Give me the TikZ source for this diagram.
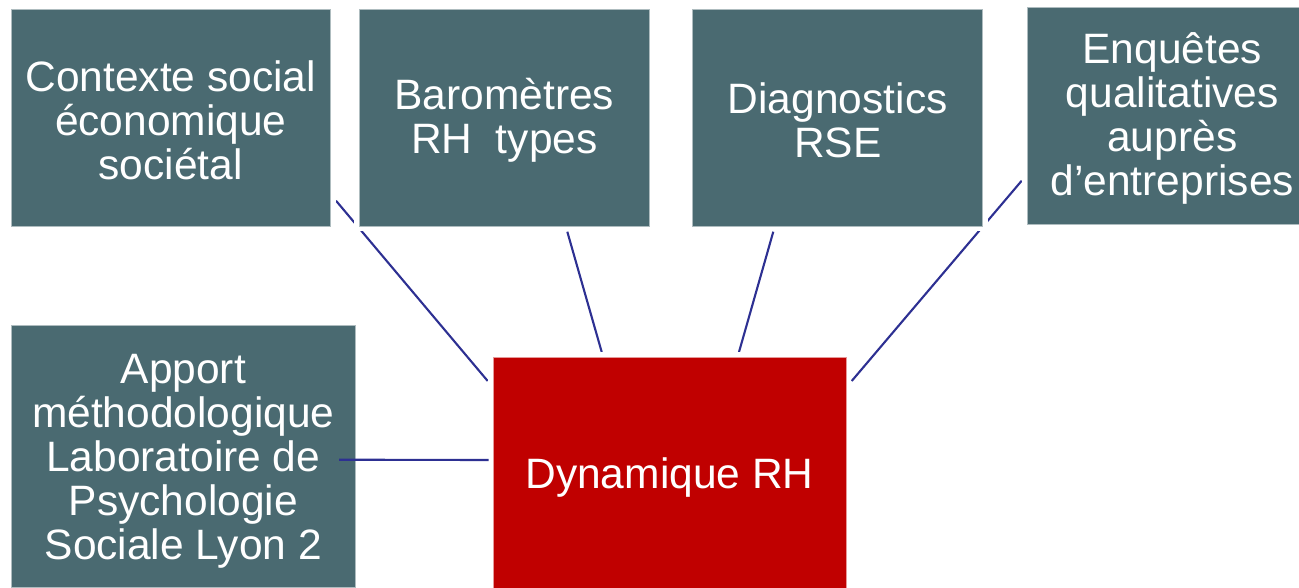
\documentclass[tikz,border=0pt]{standalone}
\usepackage{fontspec}
\setmainfont{Liberation Sans}
\definecolor{boxteal}{RGB}{74,106,113}
\definecolor{boxred}{RGB}{192,0,0}
\definecolor{linkblue}{RGB}{45,48,146}
\begin{document}
\begin{tikzpicture}[x=1pt,y=-1pt,
  box/.style={rectangle, inner sep=0pt, fill=boxteal, draw=white!55!boxteal, line width=0.8pt,
    preaction={draw=white, line width=10pt}},
  redbox/.style={box, fill=boxred, draw=white!60!boxred},
  txt/.style={inner sep=0pt, text=white, align=center, font=\fontsize{42.5}{44}\selectfont},
  link/.style={draw=linkblue, line width=2.1pt}
]
\useasboundingbox (0,0) rectangle (1299,587);
% connector end points
\coordinate (l1a) at (336,200.7);  \coordinate (l1b) at (487.7,381);
\coordinate (l2a) at (567.3,231.7); \coordinate (l2b) at (601.7,352);
\coordinate (l3a) at (773.3,231.7); \coordinate (l3b) at (739,352);
\coordinate (l4a) at (1021.7,180.7); \coordinate (l4b) at (851.7,381);
\coordinate (l5a) at (339,459.7);  \coordinate (l5b) at (488.7,460);
\draw[link] (l1a) -- (l1b);
\draw[link] (l2a) -- (l2b);
\draw[link] (l3a) -- (l3b);
\draw[link] (l4a) -- (l4b);
% boxes
\node[box, minimum width=319.7pt, minimum height=217.7pt] (b1) at (170.8,117.8) {};
\node[box, minimum width=290pt, minimum height=217pt] (b2) at (504.3,117.5) {};
\node[box, minimum width=290pt, minimum height=217pt] (b3) at (837.7,117.5) {};
\node[box, minimum width=290pt, minimum height=217pt] (b4) at (1172.3,115.8) {};
\node[box, minimum width=344.7pt, minimum height=262pt] (b5) at (183.3,456) {};
\node[redbox, minimum width=353pt, minimum height=234.6pt] (dyn) at (669.5,474.6) {};
% texts
\node[txt] (t1) at ([yshift=-2.5pt]b1.center) {Contexte social\\économique\\sociétal};
\node[txt] (t2) at ([yshift=-3pt]b2.center) {Baromètres\\RH\ \ types};
\node[txt] (t3) at ([yshift=-3pt]b3.center) {Diagnostics\\RSE};
\node[txt] (t4) at ([yshift=-2.5pt]b4.center) {Enquêtes\\qualitatives\\auprès\\d’entreprises};
\node[txt] (t5) at ([yshift=-5pt]b5.center) {Apport\\méthodologique\\Laboratoire de\\Psychologie\\Sociale Lyon 2};
\node[txt] (t6) at ([yshift=-3pt]dyn.center) {Dynamique RH};
\draw[link] (l5a) -- (l5b);
\end{tikzpicture}
\end{document}
